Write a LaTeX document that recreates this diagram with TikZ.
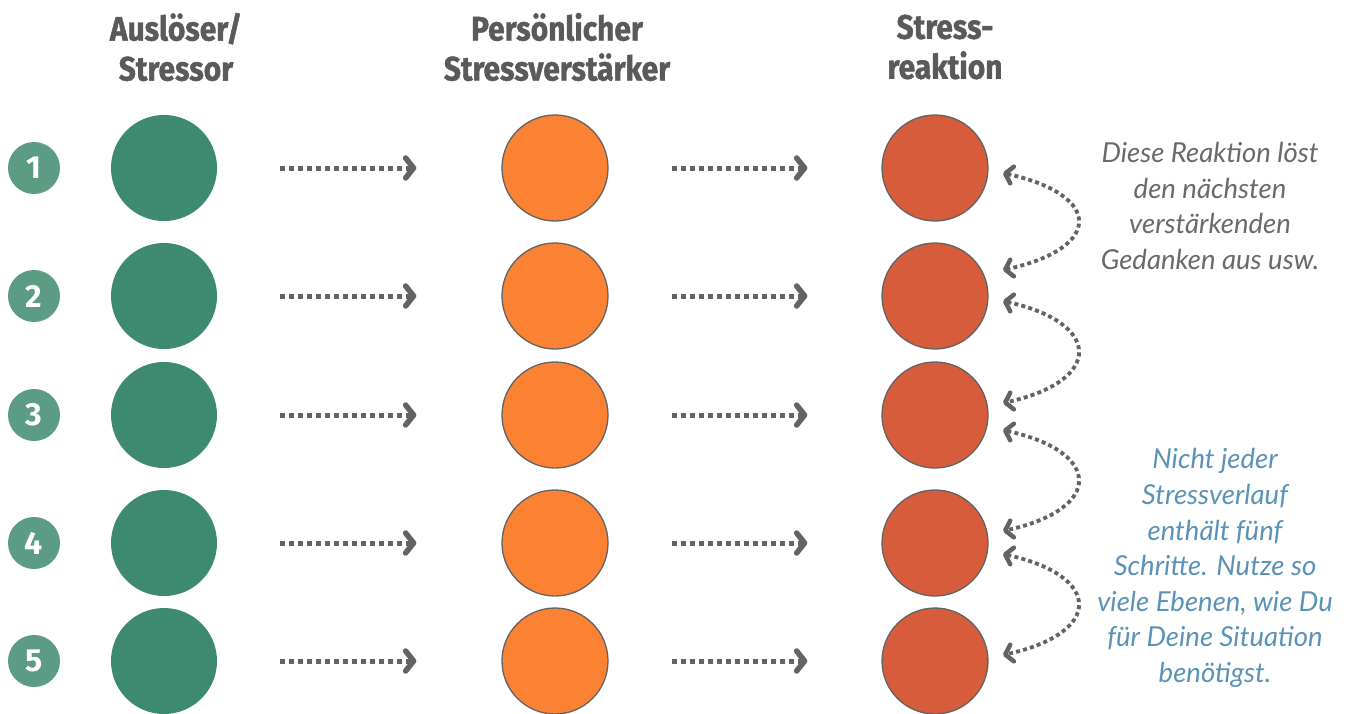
\documentclass[tikz,border=0pt]{standalone}
\usepackage{fontspec}
\setmainfont{Fira Sans}
\newfontfamily\headfont[FakeStretch=0.88,FakeBold=1.2]{Fira Sans}
\newfontfamily\notefont{Lato}
\usetikzlibrary{arrows.meta,calc}
\definecolor{cgreen}{HTML}{3D8A70}
\definecolor{cnum}{HTML}{5C9B84}
\definecolor{corange}{HTML}{FB8232}
\definecolor{cred}{HTML}{D65C3B}
\definecolor{cline}{HTML}{636363}
\definecolor{chead}{HTML}{5A5A5A}
\definecolor{cnote}{HTML}{6A6A6A}
\definecolor{cblue}{HTML}{5B93B6}
\tikzset{
  head/.style={align=center, text=chead, font=\headfont\bfseries\fontsize{34}{40}\selectfont},
  numc/.style={circle, fill=cnum, minimum size=52pt, inner sep=0pt, text=white, font=\bfseries\fontsize{32}{32}\selectfont},
  bigc/.style={circle, minimum size=106pt, inner sep=0pt},
  gc/.style={bigc, fill=cgreen},
  oc/.style={bigc, fill=corange, draw=cline, line width=1.3pt},
  rc/.style={bigc, fill=cred, draw=cline, line width=1.3pt},
  harrow/.style={draw=cline, line width=5pt, dash pattern=on 5pt off 4pt,
    -{Straight Barb[length=8pt,width=20pt,line width=5.5pt,round]}},
  carrow/.style={draw=cline, line width=3.8pt, dash pattern=on 4pt off 3.2pt,
    {Straight Barb[length=7pt,width=17pt,line width=4.5pt,round]}-{Straight Barb[length=7pt,width=17pt,line width=4.5pt,round]}},
  note/.style={align=center, font=\notefont\itshape\fontsize{27.5}{35.6}\selectfont}
}
\begin{document}
\begin{tikzpicture}[x=1pt,y=-1pt]
\useasboundingbox (0,0) rectangle (1349,713);
\fill[white] (0,0) rectangle (1349,713);
\node[head] (h1) at (176,47) {Auslöser/\\Stressor};
\node[head] (h2) at (557,47) {Persönlicher\\Stressverstärker};
\node[head] (h3) at (945,47) {Stress-\\reaktion};
\foreach \i/\y in {1/168,2/296,3/415,4/543,5/661}{
  \node[numc] (n\i) at (34,\y) {\i};
  \node[gc] (g\i) at (164,\y) {};
  \node[oc] (o\i) at (555,\y) {};
  \node[rc] (r\i) at (935,\y) {};
  \draw[harrow, shorten <=63pt, shorten >=85pt] (g\i) -- (o\i);
  \draw[harrow, shorten <=63pt, shorten >=74pt] (o\i) -- (r\i);
}
\foreach \i/\j/\a/\b in {1/2/5/-26,2/3/5/-12,3/4/15/-12,4/5/11/-6}{
  \coordinate (s\i) at ($(r\i.center)+(68,\a)$);
  \coordinate (e\i) at ($(r\j.center)+(68,\b)$);
  \draw[carrow] (s\i) .. controls ($(s\i)+(100,22)$) and ($(e\i)+(100,-22)$) .. (e\i);
}
\node[note, text=cnote] (t1) at (1210,206) {Diese Reaktion löst\\den nächsten\\verstärkenden\\Gedanken aus usw.};
\node[note, text=cblue] (t2) at (1215,568) {Nicht jeder\\Stressverlauf\\enthält fünf\\Schritte. Nutze so\\viele Ebenen, wie Du\\für Deine Situation\\benötigst.};
\end{tikzpicture}
\end{document}
